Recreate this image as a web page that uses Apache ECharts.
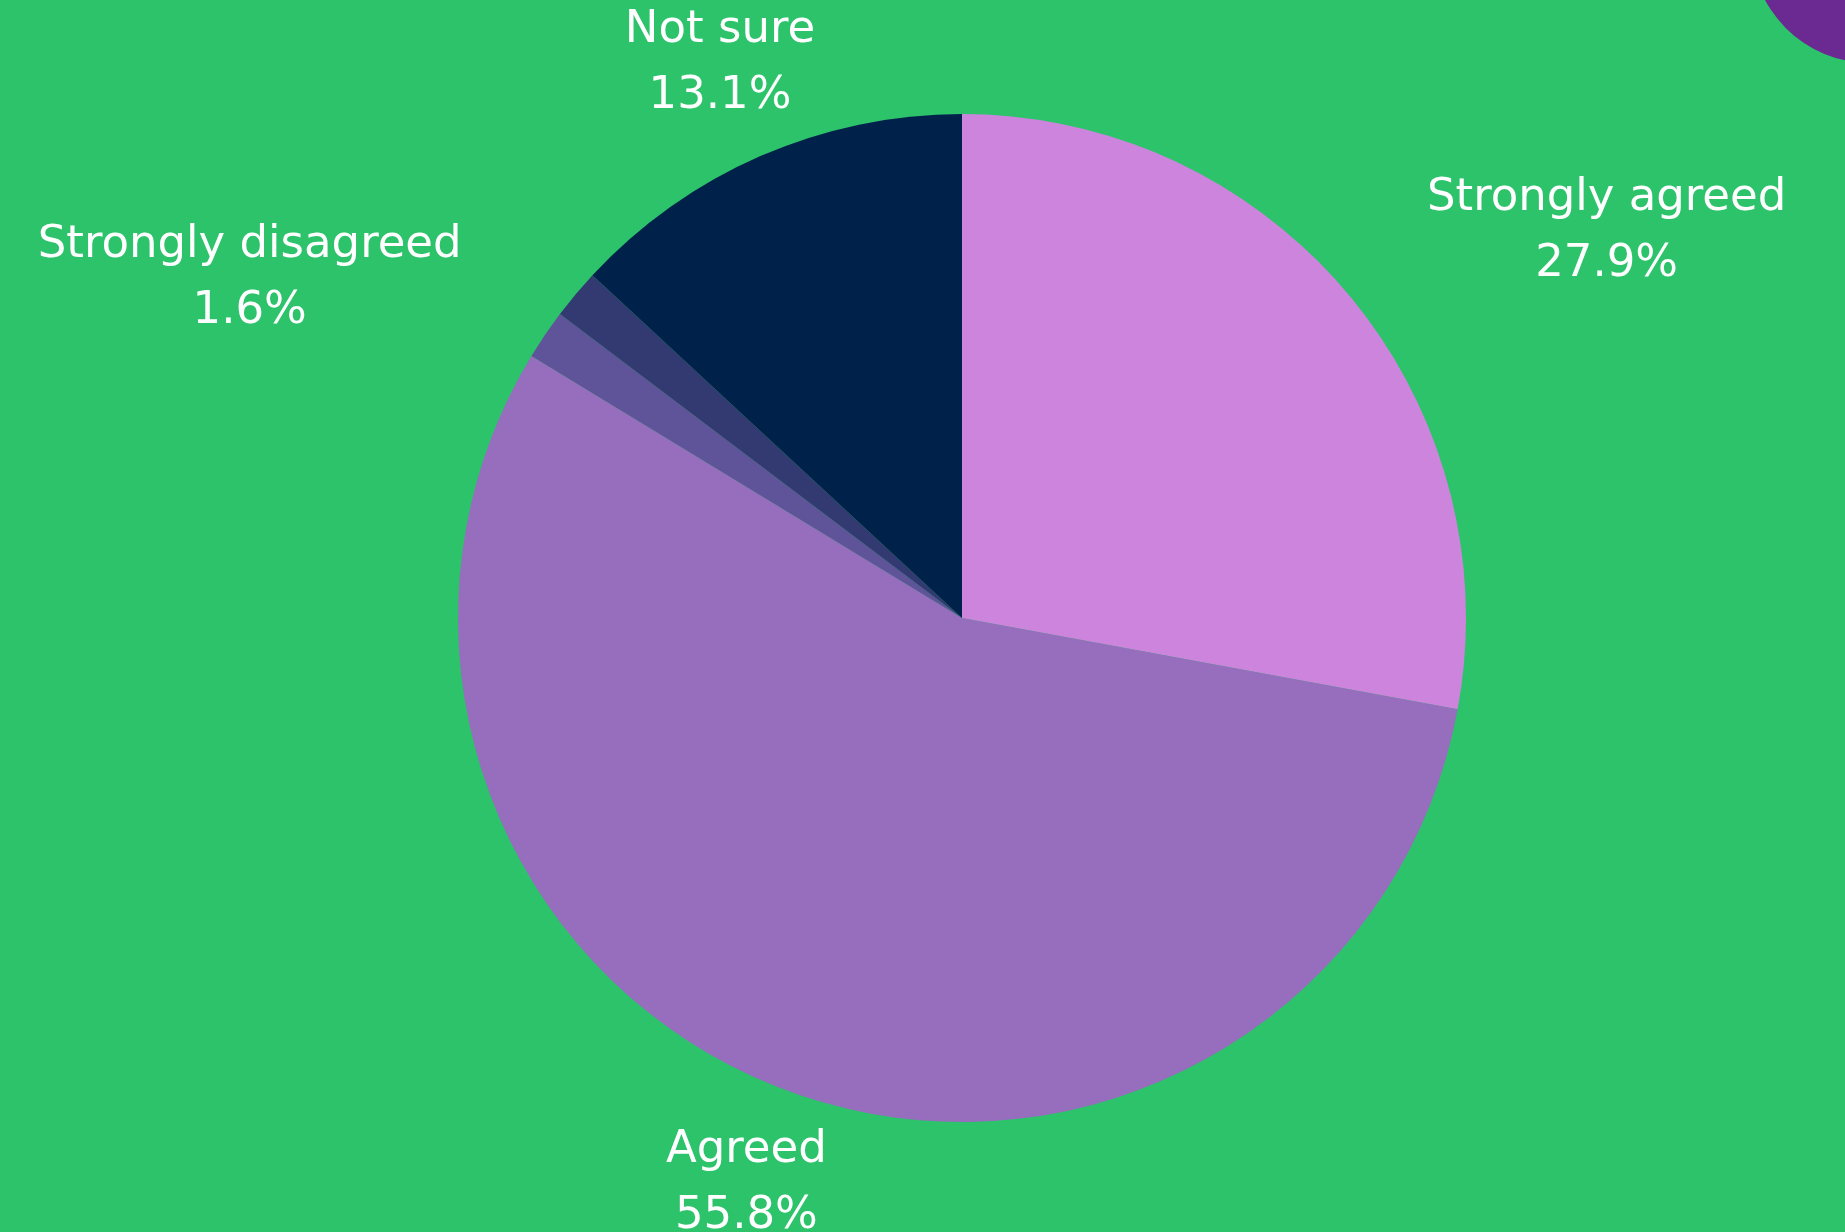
<!DOCTYPE html>
<html>
<head>
<meta charset="utf-8">
<script src="https://cdn.jsdelivr.net/npm/echarts@6/dist/echarts.min.js"></script>
<style>
html,body{margin:0;padding:0;background:#2cc36b;}
#chart{width:1845px;height:1232px;}
</style>
</head>
<body>
<div id="chart"></div>
<script>
const categories = ['Strongly agreed', 'Agreed', 'Strongly disagreed', 'Disagreed', 'Not sure'];
const values = [27.9, 55.8, 1.6, 1.6, 13.1];
const showLabel = [true, true, true, false, true];
const colors = ['#cd84dd', '#976dbe', '#5f5399', '#333a72', '#00224a'];

const CX = 962, CY = 618, R = 504, LABEL_R = 605;
const total = values.reduce((a, b) => a + b, 0);
const cum = [];
values.reduce((acc, v, i) => { cum[i] = acc + v / 2; return acc + v; }, 0);

const chart = echarts.init(document.getElementById('chart'));
chart.setOption({
  backgroundColor: '#2cc36b',
  animation: false,
  graphic: [{
    type: 'circle',
    shape: { cx: 1870, cy: -56, r: 119 },
    style: { fill: '#6a2a92' },
    z: 0
  }],
  series: [{
    type: 'pie',
    center: [CX, CY],
    radius: R,
    startAngle: 90,
    clockwise: true,
    avoidLabelOverlap: false,
    itemStyle: { borderWidth: 0 },
    label: {
      show: true,
      position: 'outside',
      formatter: '{b}\n{c}%',
      color: '#ffffff',
      fontFamily: 'DejaVu Sans',
      fontSize: 45,
      lineHeight: 66,
      align: 'center'
    },
    labelLine: { show: false },
    emphasis: { disabled: true },
    labelLayout: function (params) {
      const i = params.dataIndex;
      const th = cum[i] / total * Math.PI * 2;
      const s = Math.sin(th), c = Math.cos(th);
      const w = params.labelRect.width;
      let x = CX + LABEL_R * s;
      if (s > 0.6) x += w / 2;
      else if (s < -0.6) x -= w / 2;
      return {
        x: x,
        y: CY - LABEL_R * c,
        align: 'center',
        verticalAlign: 'middle'
      };
    },
    data: categories.map((name, i) => ({
      name: name,
      value: values[i],
      itemStyle: { color: colors[i] },
      label: { show: showLabel[i] }
    }))
  }]
});
</script>
</body>
</html>
